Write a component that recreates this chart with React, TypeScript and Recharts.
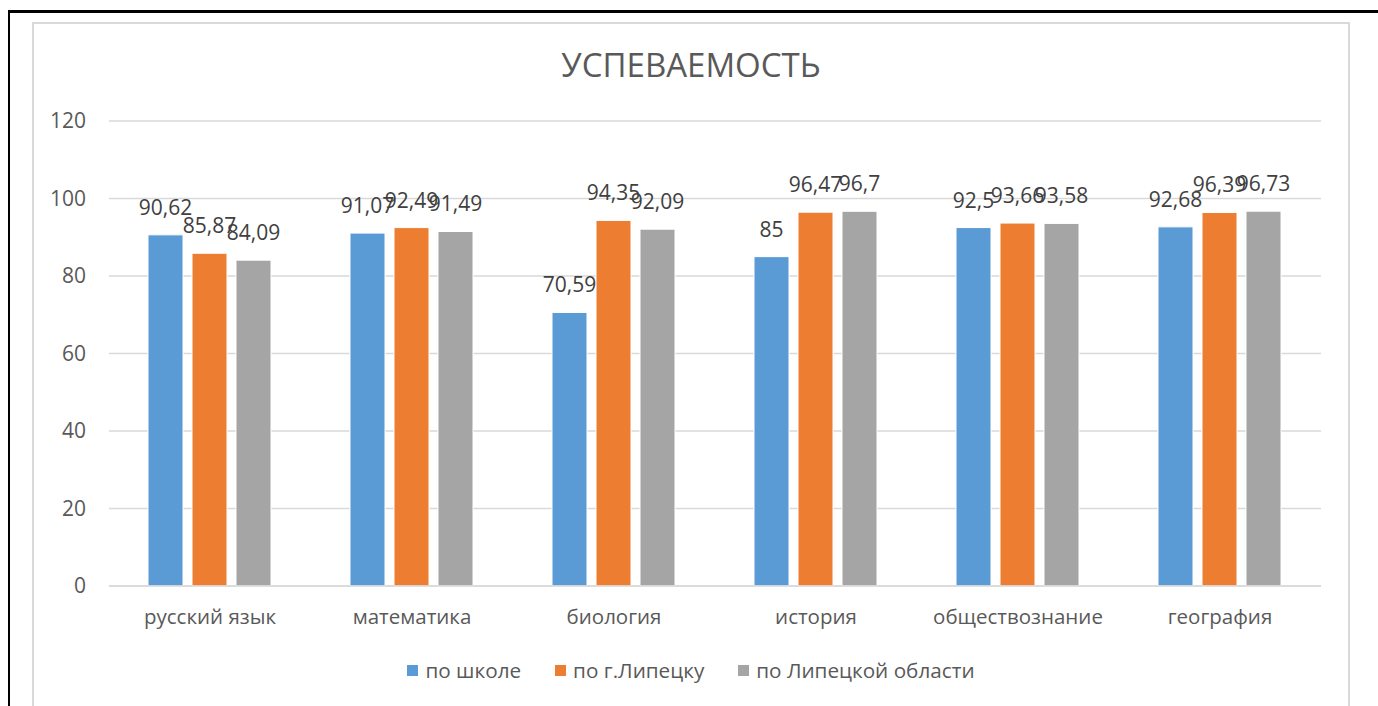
import React from "react";
import {
  BarChart,
  Bar,
  XAxis,
  YAxis,
  CartesianGrid,
  LabelList,
} from "recharts";

const subjects = [
  "русский язык",
  "математика",
  "биология",
  "история",
  "обществознание",
  "география",
];
const school = [90.62, 91.07, 70.59, 85, 92.5, 92.68];
const city = [85.87, 92.49, 94.35, 96.47, 93.66, 96.39];
const region = [84.09, 91.49, 92.09, 96.7, 93.58, 96.73];
const yTicks = [0, 20, 40, 60, 80, 100, 120];

const seriesNames = ["по школе", "по г.Липецку", "по Липецкой области"];
const colors = ["#5B9BD5", "#ED7D31", "#A5A5A5"];

const data = subjects.map((s, i) => ({
  name: s,
  school: school[i],
  city: city[i],
  region: region[i],
}));

const FONT = "'Open Sans', sans-serif";
const TEXT = "#595959";

const fmt = (v: any) => String(v).replace(".", ",");

// legend drawn as plain html under the plot
const LegendBox = () => (
  <div
    style={{
      position: "absolute",
      left: 0,
      right: 0,
      top: 632,
      display: "flex",
      justifyContent: "center",
      fontFamily: FONT,
      fontSize: 20.7,
      color: TEXT,
    }}
  >
    {seriesNames.map((n, i) => (
      <div
        key={n}
        style={{ display: "flex", alignItems: "center", marginRight: i < 2 ? 34 : 0 }}
      >
        <span
          style={{
            width: 11,
            height: 11,
            background: colors[i],
            display: "inline-block",
            marginRight: 7,
          }}
        />
        {n}
      </div>
    ))}
  </div>
);

export default function App() {
  const keys = ["school", "city", "region"];
  return (
    <div
      style={{
        position: "fixed",
        left: 0,
        top: 0,
        width: 1378,
        height: 706,
        overflow: "hidden",
        background: "#fff",
      }}
    >
      <div
        style={{
          position: "absolute",
          left: 8,
          top: 10,
          width: 1400,
          height: 720,
          borderTop: "3px solid #000",
          borderLeft: "2px solid #000",
        }}
      />
      <div
        style={{
          position: "absolute",
          left: 32,
          top: 22,
          width: 1314,
          height: 700,
          border: "2px solid #d9d9d9",
          background: "#fff",
        }}
      >
        <div
          style={{
            position: "absolute",
            left: 0,
            right: 0,
            top: 25,
            textAlign: "center",
            fontFamily: FONT,
            fontSize: 33,
            lineHeight: "32px",
            color: TEXT,
          }}
        >
          УСПЕВАЕМОСТЬ
        </div>
        <BarChart
          width={1314}
          height={700}
          data={data}
          margin={{ top: 97, right: 27, left: 0, bottom: 98 }}
          barCategoryGap={39}
          barGap={9}
        >
          <CartesianGrid vertical={false} stroke="#d9d9d9" strokeWidth={1.5} />
          <XAxis
            dataKey="name"
            height={40}
            tickLine={false}
            axisLine={{ stroke: "#d9d9d9", strokeWidth: 1.5 }}
            tick={{ fill: TEXT, fontSize: 20.5, fontFamily: FONT }}
            tickMargin={17}
          />
          <YAxis
            width={75}
            domain={[0, 120]}
            ticks={yTicks}
            axisLine={false}
            tickLine={false}
            tick={{ fill: TEXT, fontSize: 21, fontFamily: FONT }}
            tickMargin={17}
          />
          {keys.map((k, i) => (
            <Bar
              key={k}
              dataKey={k}
              name={seriesNames[i]}
              fill={colors[i]}
              stroke="#fff"
              strokeWidth={1}
              isAnimationActive={false}
            >
              <LabelList
                dataKey={k}
                position="top"
                offset={20}
                formatter={fmt}
                style={{ fill: "#404040", fontSize: 21, fontFamily: FONT }}
              />
            </Bar>
          ))}
        </BarChart>
        <LegendBox />
      </div>
    </div>
  );
}
